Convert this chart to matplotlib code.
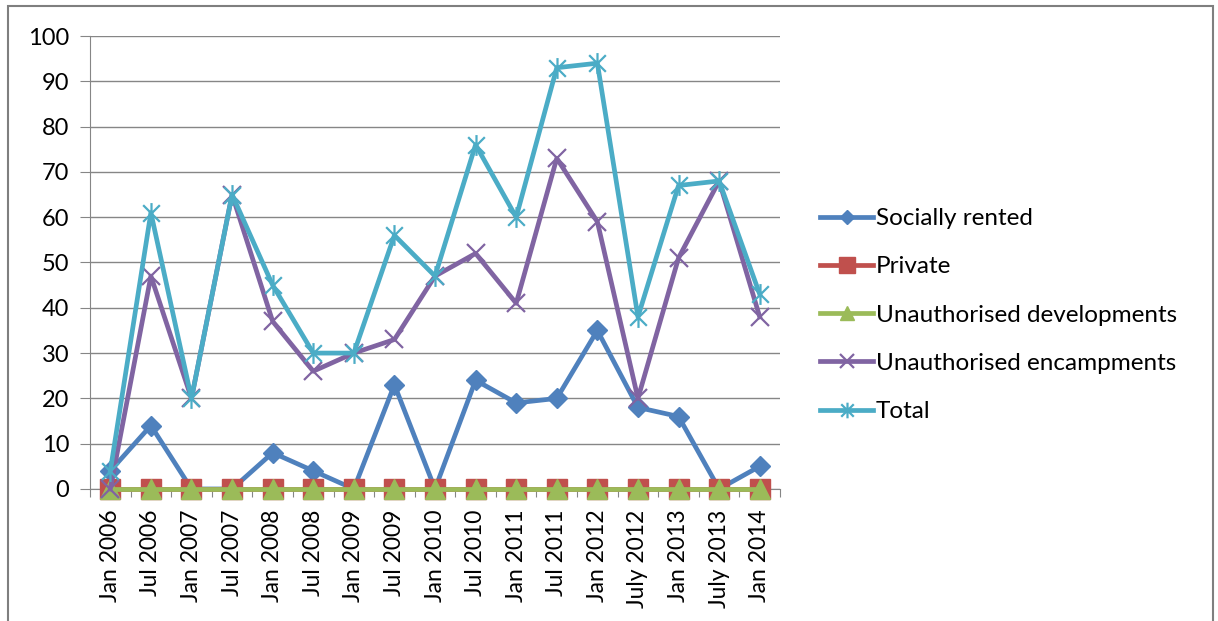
import numpy as np
import matplotlib
matplotlib.use("Agg")
import matplotlib.pyplot as plt
from matplotlib.path import Path
from matplotlib.patches import Rectangle

plt.rcParams["font.family"] = ["Lato", "DejaVu Sans"]

periods = ["Jan 2006", "Jul 2006", "Jan 2007", "Jul 2007", "Jan 2008", "Jul 2008",
           "Jan 2009", "Jul 2009", "Jan 2010", "Jul 2010", "Jan 2011", "Jul 2011",
           "Jan 2012", "July 2012", "Jan 2013", "July 2013", "Jan 2014"]
socially_rented = [4, 14, 0, 0, 8, 4, 0, 23, 0, 24, 19, 20, 35, 18, 16, 0, 5]
private = [0] * 17
unauth_dev = [0] * 17
unauth_enc = [0, 47, 20, 65, 37, 26, 30, 33, 47, 52, 41, 73, 59, 20, 51, 68, 38]
total = [4, 61, 20, 65, 45, 30, 30, 56, 47, 76, 60, 93, 94, 38, 67, 68, 43]

# excel-style star: an X with a vertical bar through it
star = Path([(-1, -1), (1, 1), (-1, 1), (1, -1), (0, -1.25), (0, 1.25)],
            [Path.MOVETO, Path.LINETO, Path.MOVETO, Path.LINETO, Path.MOVETO, Path.LINETO])

fig = plt.figure(figsize=(12.18, 6.21), dpi=100)
ax = fig.add_axes([0.0739, 0.2126, 0.5665, 0.7294])
x = np.arange(len(periods))

kw = dict(lw=3.4, clip_on=False, zorder=3)
ax.plot(x, socially_rented, c="#4F81BD", marker="D", ms=10, label="Socially rented", **kw)
ax.plot(x, private, c="#C0504D", marker="s", ms=15, label="Private", **kw)
ax.plot(x, unauth_dev, c="#9BBB59", marker="^", ms=14, label="Unauthorised developments", **kw)
ax.plot(x, unauth_enc, c="#8064A2", marker="x", ms=13, mew=1.6, label="Unauthorised encampments", **kw)
ax.plot(x, total, c="#4BACC6", marker=star, ms=15, mew=1.6, label="Total", **kw)

ax.set_xlim(-0.5, len(periods) - 0.5)
ax.set_ylim(0, 100)
ax.set_yticks(range(0, 101, 10))
ax.grid(axis="y", color="#868686", lw=1)
ax.set_axisbelow(True)
for s in ["top", "right"]:
    ax.spines[s].set_visible(False)
for s in ["left", "bottom"]:
    ax.spines[s].set_color("#868686")
ax.tick_params(axis="y", length=7, color="#868686", labelsize=17, pad=8)
ax.set_xticks(np.arange(len(periods) + 1) - 0.5)
ax.set_xticklabels([])
ax.tick_params(axis="x", which="major", length=6, color="#868686")
ax.set_xticks(x, minor=True)
ax.set_xticklabels(periods, minor=True, rotation=90, fontsize=16.5)
ax.tick_params(axis="x", which="minor", length=0, pad=15)

ax.legend(loc="center left", bbox_to_anchor=(1.058, 0.384), frameon=False, fontsize=17.5,
          borderpad=0, borderaxespad=0, handlelength=2.2, handletextpad=0.1,
          labelspacing=1.12, markerscale=0.75)

fig.patches.append(Rectangle((0.0066, -0.02), 0.9894, 1.0103, transform=fig.transFigure,
                             fill=False, ec="#7f7f7f", lw=1.5))
fig.savefig("out.png", dpi=100)
